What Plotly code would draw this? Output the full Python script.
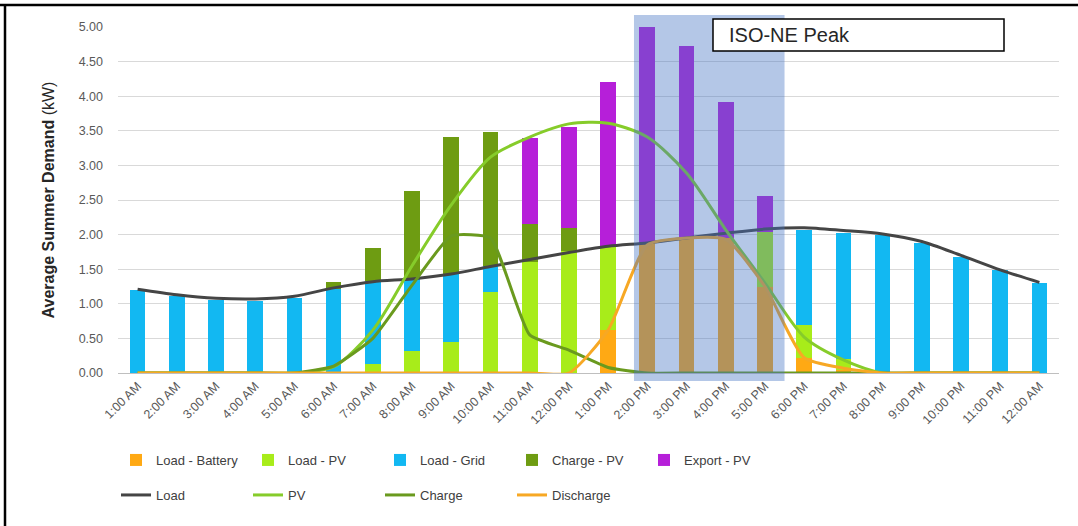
import plotly.graph_objects as go

hours = ["1:00 AM", "2:00 AM", "3:00 AM", "4:00 AM", "5:00 AM", "6:00 AM", "7:00 AM",
         "8:00 AM", "9:00 AM", "10:00 AM", "11:00 AM", "12:00 PM", "1:00 PM", "2:00 PM",
         "3:00 PM", "4:00 PM", "5:00 PM", "6:00 PM", "7:00 PM", "8:00 PM", "9:00 PM",
         "10:00 PM", "11:00 PM", "12:00 AM"]

load_battery = [0, 0, 0, 0, 0, 0, 0, 0, 0, 0, 0, 0, 0.62, 1.88, 1.95, 1.95, 1.25, 0.22, 0.05, 0, 0, 0, 0, 0]
load_pv = [0, 0, 0, 0, 0, 0.02, 0.13, 0.32, 0.45, 1.17, 1.61, 1.77, 1.21, 0, 0, 0, 0.79, 0.47, 0.15, 0, 0, 0, 0, 0]
load_grid = [1.20, 1.11, 1.05, 1.04, 1.09, 1.19, 1.20, 1.04, 0.98, 0.37, 0, 0, 0, 0, 0, 0, 0, 1.37, 1.82, 2.00, 1.88, 1.68, 1.49, 1.30]
charge_pv = [0, 0, 0, 0, 0, 0.10, 0.48, 1.27, 1.98, 1.94, 0.55, 0.32, 0, 0, 0, 0, 0, 0, 0, 0, 0, 0, 0, 0]
export_pv = [0, 0, 0, 0, 0, 0, 0, 0, 0, 0, 1.23, 1.47, 2.38, 3.12, 2.78, 1.96, 0.52, 0, 0, 0, 0, 0, 0, 0]

load = [1.21, 1.13, 1.08, 1.07, 1.11, 1.23, 1.32, 1.36, 1.43, 1.54, 1.64, 1.74, 1.83, 1.88, 1.95, 2.02, 2.08, 2.10, 2.06, 2.01, 1.90, 1.70, 1.49, 1.31]
pv = [0, 0, 0, 0, 0, 0.09, 0.62, 1.55, 2.43, 3.12, 3.41, 3.60, 3.61, 3.41, 2.89, 2.07, 1.30, 0.52, 0.19, 0, 0, 0, 0, 0]
charge = [0, 0, 0, 0, 0, 0.10, 0.50, 1.27, 1.98, 1.95, 0.55, 0.33, 0.08, 0, 0, 0, 0, 0, 0, 0, 0, 0, 0, 0]
discharge = [0, 0, 0, 0, 0, 0, 0, 0, 0, 0, 0, 0, 0.62, 1.85, 1.95, 1.93, 1.25, 0.22, 0.07, 0, 0, 0, 0, 0]

bar_series = [
    ("Load - Battery", load_battery, "#FFA914"),
    ("Load - PV", load_pv, "#A8EC1A"),
    ("Load - Grid", load_grid, "#12B8F2"),
    ("Charge - PV", charge_pv, "#6E9C12"),
    ("Export - PV", export_pv, "#B61FD9"),
]
line_series = [
    ("Load", load, "#454545", 0.8),
    ("PV", pv, "#86CC2A", 0.8),
    ("Charge", charge, "#6A9A1E", 0.45),
    ("Discharge", discharge, "#F7A824", 0.6),
]

fig = go.Figure()
for name, vals, col in bar_series:
    fig.add_trace(go.Bar(x=hours, y=vals, name=name, marker=dict(color=col, line=dict(width=0)),
                         width=0.4, legend="legend"))
for name, vals, col, sm in line_series:
    fig.add_trace(go.Scatter(x=hours, y=vals, name=name, mode="lines",
                             line=dict(color=col, width=3, shape="spline", smoothing=sm),
                             legend="legend2"))

W, H = 1078, 526
L, R, T, B = 118, 19, 27, 153
pw, ph = W - L - R, H - T - B

def px(x):
    return (x - L) / pw

def py(y):
    return (H - B - y) / ph

shapes = [
    # ISO-NE peak shading
    dict(type="rect", xref="x", yref="paper", x0=12.66, x1=16.5, y0=py(381), y1=py(15),
         fillcolor="rgba(68,114,196,0.40)", line=dict(width=0), layer="above"),
    # label box
    dict(type="rect", xref="paper", yref="paper", x0=px(713), x1=px(1004), y0=py(51), y1=py(19),
         fillcolor="white", line=dict(color="black", width=1.5), layer="above"),
    # outer frame lines
    dict(type="line", xref="paper", yref="paper", x0=px(0), x1=px(1078), y0=py(5), y1=py(5),
         line=dict(color="black", width=2.5)),
    dict(type="line", xref="paper", yref="paper", x0=px(5), x1=px(5), y0=py(5), y1=py(526),
         line=dict(color="black", width=2.5)),
]

fig.update_layout(
    width=W, height=H,
    margin=dict(l=L, r=R, t=T, b=B),
    barmode="stack",
    bargap=0.6,
    plot_bgcolor="white", paper_bgcolor="white",
    font=dict(family="Arial, Liberation Sans, sans-serif", size=12, color="#595959"),
    shapes=shapes,
    annotations=[dict(text="ISO-NE Peak", xref="paper", yref="paper", x=px(727), y=py(35),
                      xanchor="left", yanchor="middle", showarrow=False,
                      font=dict(size=20, color="#262626", family="Arial, Liberation Sans, sans-serif"))],
    xaxis=dict(type="category", range=[-0.5, 23.5], tickangle=-45, showgrid=False,
               showline=True, linecolor="#bfbfbf", ticks="", tickfont=dict(size=12.5, color="#595959")),
    yaxis=dict(range=[0, 5.0], dtick=0.5, tickformat=".2f", showgrid=True, gridcolor="#d9d9d9",
               zeroline=False, showline=False, ticks="", ticklabelstandoff=14,
               tickfont=dict(size=12.5, color="#595959"),
               title=dict(text="<b>Average Summer Demand</b> (kW)", standoff=20,
                          font=dict(size=16, color="#262626"))),
    legend=dict(orientation="h", x=px(116), y=py(460), xanchor="left", yanchor="middle",
                entrywidth=87, entrywidthmode="pixels", traceorder="normal",
                font=dict(size=13, color="#404040"), itemwidth=30, tracegroupgap=0),
    legend2=dict(orientation="h", x=px(116), y=py(495), xanchor="left", yanchor="middle",
                 entrywidth=87, entrywidthmode="pixels", traceorder="normal",
                 font=dict(size=13, color="#404040"), itemwidth=30, tracegroupgap=0),
)

fig.write_html("out.html", config={"displayModeBar": False},
               post_script="document.body.style.margin='0';document.body.style.padding='0';")
